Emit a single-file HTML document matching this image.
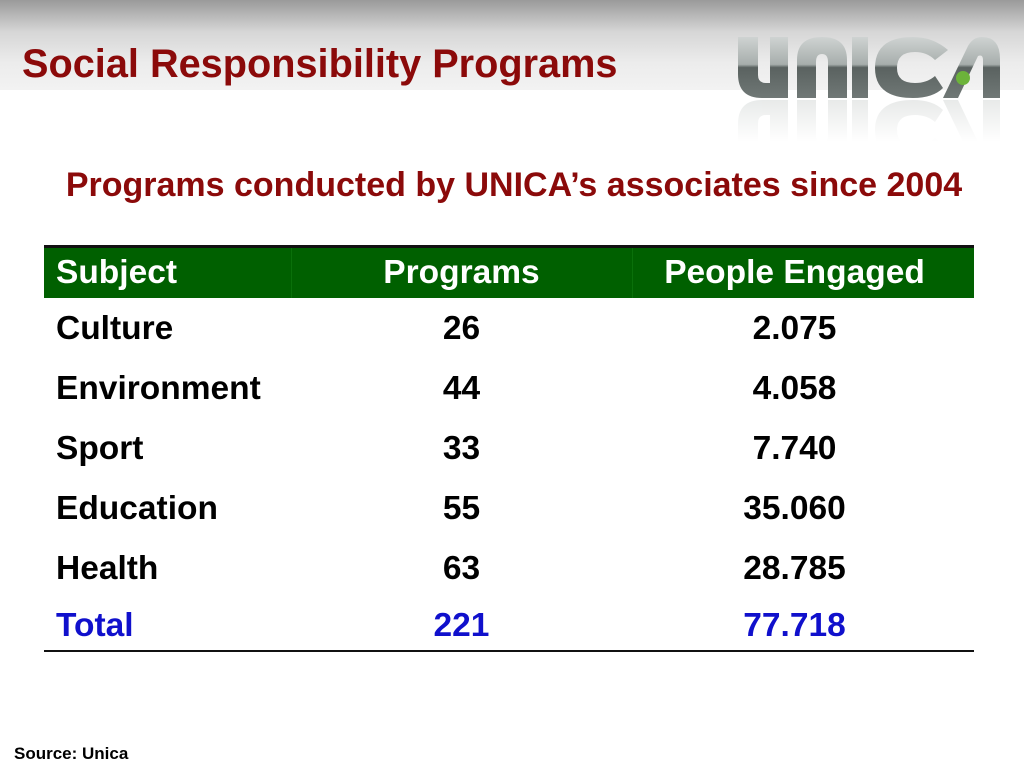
<!DOCTYPE html>
<html><head><meta charset="utf-8"><style>
body{margin:0;width:1024px;height:768px;position:relative;overflow:hidden;background:#fff;font-family:"Liberation Sans",Arial,sans-serif;font-weight:bold}
.hdr{position:absolute;left:0;top:0;width:1024px;height:90px;background:linear-gradient(#9a9a9a,#d6d6d6 35%,#ececec 70%,#f2f2f2)}
.abs{position:absolute;white-space:nowrap}
.cell{position:absolute;font-size:33.5px;line-height:60px;height:60px}
</style></head><body>
<div class="hdr"></div>
<div class="abs" style="left:22px;top:42px;font-size:39.7px;color:#8b0a0a;line-height:44px">Social Responsibility Programs</div>
<svg class="abs" style="left:700px;top:0" width="324" height="160">
 <defs>
  <linearGradient id="g" gradientUnits="userSpaceOnUse" x1="0" y1="37" x2="0" y2="98"><stop offset="0" stop-color="#cfd3d2"/><stop offset="0.45" stop-color="#a7aeac"/><stop offset="0.5" stop-color="#5a6260"/><stop offset="1" stop-color="#707876"/></linearGradient>
  <linearGradient id="w" x1="0" y1="0" x2="0" y2="1"><stop offset="0" stop-color="#fff" stop-opacity="0.2"/><stop offset="0.7" stop-color="#fff" stop-opacity="1"/></linearGradient>
  <g id="letters">
   <path d="M38 37h20v38q0 8 8 8h4V37h18v61H62q-24 0-24-24z"/>
   <path d="M97 98V60q0-23 25-23t25 23v38h-19V62q0-8-6-8t-6 8v36z"/>
   <rect x="152" y="37" width="16" height="61"/>
   <path d="M248 50q-15-13-35-13q-38 0-38 31q0 30 38 30q20 0 30-10l-8-12q-8 7-20 7q-18 0-18-15q0-16 18-16q12 0 20 8z"/>
   <path d="M243 98l25-52q5-9 14-9q18 0 18 22v39h-17V60q0-6-5-4l-20 42z"/>
  </g>
 </defs>
 <g fill="url(#g)"><use href="#letters"/></g>
 <g fill="#a0a8a6" opacity="0.3" transform="translate(0,198) scale(1,-1)"><use href="#letters"/></g>
 <rect x="30" y="99" width="280" height="61" fill="url(#w)"/>
 <circle cx="263" cy="78" r="7" fill="#6cb33a"/>
</svg>
<div class="abs" style="left:0;width:1028px;text-align:center;top:165px;font-size:34px;color:#8b0a0a;line-height:40px">Programs conducted by UNICA’s associates since 2004</div>
<div class="abs" style="left:44px;top:245px;width:930px;height:53px;background:#006000;border-top:3px solid #111;box-sizing:border-box"></div>
<div class="abs" style="left:291px;top:248px;width:1px;height:50px;background:#0a700a"></div>
<div class="abs" style="left:632px;top:248px;width:1px;height:50px;background:#0a700a"></div>
<div class="cell" style="left:56px;top:243px;color:#fff">Subject</div>
<div class="cell" style="left:291px;width:341px;text-align:center;top:243px;color:#fff">Programs</div>
<div class="cell" style="left:632px;width:325px;text-align:center;top:243px;color:#fff">People Engaged</div>
<div class="abs" style="left:44px;top:650px;width:930px;height:2px;background:#111"></div>
<div class="abs" style="left:14px;top:744px;font-size:17px;color:#000">Source: Unica</div>
<script>
const subjects=["Culture","Environment","Sport","Education","Health","Total"];
const programs=["26","44","33","55","63","221"];
const people=["2.075","4.058","7.740","35.060","28.785","77.718"];
const tops=[299,359,419,479,539,596];
const c=document.body;
subjects.forEach((s,i)=>{
 const col=i===5?"#1010cc":"#000";
 const vals=[[s,"left:56px"],[programs[i],"left:291px;width:341px;text-align:center"],[people[i],"left:632px;width:325px;text-align:center"]];
 vals.forEach((v,j)=>{
  const d=document.createElement('div');
  d.className='cell';
  d.setAttribute('style',v[1]+';top:'+tops[i]+'px;color:'+col);
  d.textContent=v[0];
  
  
  c.appendChild(d);
 });
});
</script>
</body></html>
